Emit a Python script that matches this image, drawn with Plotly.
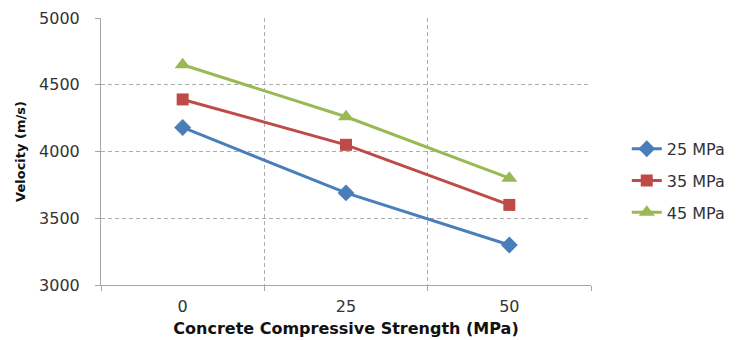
import plotly.graph_objects as go

categories = ["0", "25", "50"]
series_names = ["25 MPa", "35 MPa", "45 MPa"]
v25 = [4180, 3690, 3300]
v35 = [4390, 4050, 3600]
v45 = [4650, 4260, 3800]
y_ticks = [3000, 3500, 4000, 4500, 5000]

colors = ["#4A7EBB", "#BE4B48", "#98B954"]
symbols = ["diamond", "square", "triangle-up"]
sizes = [13, 12, 14]

fig = go.Figure()
for name, vals, c, s, sz in zip(series_names, [v25, v35, v45], colors, symbols, sizes):
    fig.add_trace(go.Scatter(
        x=categories, y=vals, name=name, mode="lines+markers",
        line=dict(color=c, width=3),
        marker=dict(symbol=s, size=sz, color=c),
        legendgroup=name,
    ))

tick_font = dict(family="DejaVu Sans, sans-serif", size=16, color="#333333")
fig.update_layout(
    width=732, height=332,
    margin=dict(l=93, r=149, t=10, b=55),
    paper_bgcolor="white", plot_bgcolor="white",
    font=dict(family="DejaVu Sans, sans-serif", size=16, color="#333333"),
    legend=dict(x=1.073, y=0.39, yanchor="middle", xanchor="left",
                font=dict(family="DejaVu Sans, sans-serif", size=16, color="#333333"),
                tracegroupgap=8, bgcolor="rgba(0,0,0,0)"),
    showlegend=True,
)
fig.update_xaxes(
    type="category", range=[-0.5, 2.5], tickson="boundaries",
    showgrid=True, gridcolor="#ADADAD", griddash="4px,3px", gridwidth=1,
    showline=True, linecolor="#A6A6A6", linewidth=1,
    ticks="outside", ticklen=5, tickcolor="#A6A6A6",
    tickfont=tick_font, ticklabelstandoff=7,
    title=dict(text="<b>Concrete Compressive Strength (MPa)</b>",
               font=dict(family="DejaVu Sans, sans-serif", size=16, color="#111111"), standoff=7),
    zeroline=False, automargin=False,
)
fig.update_yaxes(
    range=[3000, 5000], tickvals=y_ticks,
    showgrid=True, gridcolor="#ADADAD", griddash="4px,3px", gridwidth=1,
    showline=True, linecolor="#A6A6A6", linewidth=1,
    ticks="outside", ticklen=5, tickcolor="#A6A6A6",
    tickfont=tick_font, ticklabelstandoff=12,
    title=dict(text="<b>Velocity (m/s)</b>",
               font=dict(family="DejaVu Sans, sans-serif", size=13, color="#111111"), standoff=10),
    zeroline=False, automargin=False,
)

fig.write_html("out.html")
